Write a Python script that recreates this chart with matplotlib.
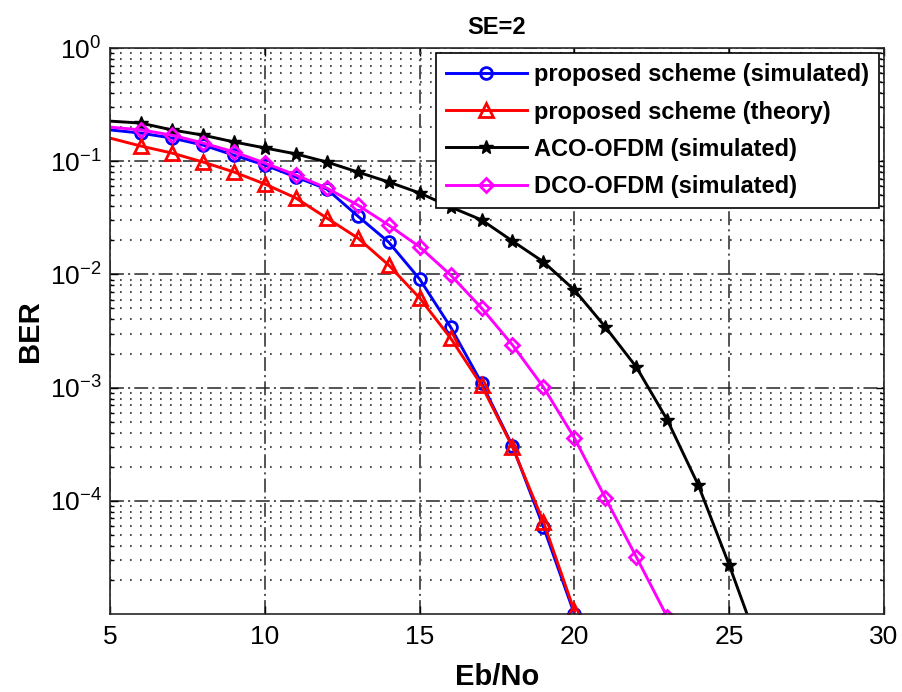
import numpy as np
import matplotlib
matplotlib.use('Agg')
import matplotlib.pyplot as plt
from matplotlib.ticker import LogLocator, FixedLocator, NullFormatter

plt.rcParams['font.family'] = ['Liberation Sans', 'DejaVu Sans']
plt.rcParams['mathtext.default'] = 'regular'
plt.rcParams['lines.scale_dashes'] = False

# Eb/No (dB) and BER values
ebno_prop = [5, 6, 7, 8, 9, 10, 11, 12, 13, 14, 15, 16, 17, 18, 19, 20]
ber_prop_sim = [0.189, 0.177, 0.160, 0.139, 0.113, 0.0925, 0.0725, 0.0568, 0.0328,
                0.0193, 0.0091, 0.00343, 0.0011, 0.000305, 5.87e-5, 1.0e-5]
ber_prop_th = [0.160, 0.136, 0.118, 0.0984, 0.0803, 0.0629, 0.0473, 0.0315, 0.0210,
               0.0121, 0.00619, 0.00274, 0.00105, 0.000299, 6.5e-5, 1.06e-5]

ebno_aco = [5, 6, 7, 8, 9, 10, 11, 12, 13, 14, 15, 16, 17, 18, 19, 20, 21, 22, 23, 24, 25, 26]
ber_aco = [0.226, 0.217, 0.189, 0.170, 0.148, 0.131, 0.116, 0.0984, 0.0803, 0.0655,
           0.0524, 0.0394, 0.0303, 0.0197, 0.0129, 0.00728, 0.00343, 0.00152,
           0.000518, 0.000138, 2.71e-5, 4.8e-6]

ebno_dco = [5, 6, 7, 8, 9, 10, 11, 12, 13, 14, 15, 16, 17, 18, 19, 20, 21, 22, 23]
ber_dco = [0.200, 0.189, 0.170, 0.145, 0.121, 0.0964, 0.0755, 0.0580, 0.0410, 0.0273,
           0.0175, 0.00989, 0.00505, 0.00238, 0.00101, 0.000359, 0.000106, 3.19e-5, 9.4e-6]

labels = ['proposed scheme (simulated)', 'proposed scheme (theory)',
          'ACO-OFDM (simulated)', 'DCO-OFDM (simulated)']

fig = plt.figure(figsize=(9.02, 6.92), dpi=100)
ax = fig.add_axes([110/902, 1-614/692, 774/902, 566/692])

skip = slice(1, None)   # first point sits on the left edge, no marker there
ax.semilogy(ebno_prop, ber_prop_sim, '-o', color='#0000ff', lw=2.1, ms=8.5, mfc='none', mew=2,
            markevery=skip, label=labels[0])
ax.semilogy(ebno_prop, ber_prop_th, '-^', color='#ff0000', lw=2.1, ms=10, mfc='none', mew=2,
            markevery=skip, label=labels[1])
ax.semilogy(ebno_aco, ber_aco, '-*', color='black', lw=2.1, ms=10,
            markevery=skip, label=labels[2])
ax.semilogy(ebno_dco, ber_dco, '-D', color='#ff00ff', lw=2.1, ms=7.5, mfc='none', mew=2,
            markevery=skip, label=labels[3])

ax.set_xlim(5, 30)
ax.set_ylim(1e-5, 1)
ax.set_xticks([5, 10, 15, 20, 25, 30])
ax.yaxis.set_major_locator(FixedLocator([1e-4, 1e-3, 1e-2, 1e-1, 1]))
ax.yaxis.set_minor_locator(LogLocator(base=10, subs=np.arange(2, 10)))
ax.yaxis.set_minor_formatter(NullFormatter())

# matlab style grid
ax.grid(True, which='major', color='0.15', linestyle=(0, (10, 3, 1.5, 3)), lw=1.1)
ax.grid(True, which='minor', axis='y', color='0.3', linestyle=(0, (1.2, 6)), lw=1.5)

ax.tick_params(which='both', direction='in', top=True, right=True, labelsize=19)
ax.tick_params(which='major', length=6, width=1)
ax.tick_params(axis='x', pad=8)
ax.tick_params(axis='y', pad=6)
ax.tick_params(which='minor', length=3, width=1)
for s in ax.spines.values():
    s.set_linewidth(1.2)
    s.set_color('0.15')

ax.set_title('SE=2', fontsize=17, fontweight='bold', pad=10)
ax.set_xlabel('Eb/No', fontsize=21, fontweight='bold', labelpad=10)
ax.set_ylabel('BER', fontsize=21, fontweight='bold', labelpad=4)

leg = ax.legend(loc='upper right', prop={'weight': 'bold', 'size': 17},
                handlelength=3.4, handletextpad=0.3, labelspacing=0.6, borderaxespad=0.2,
                fancybox=False, framealpha=1, edgecolor='black', borderpad=0.45)
leg.get_frame().set_linewidth(1.2)

fig.savefig('out.png', dpi=100)
